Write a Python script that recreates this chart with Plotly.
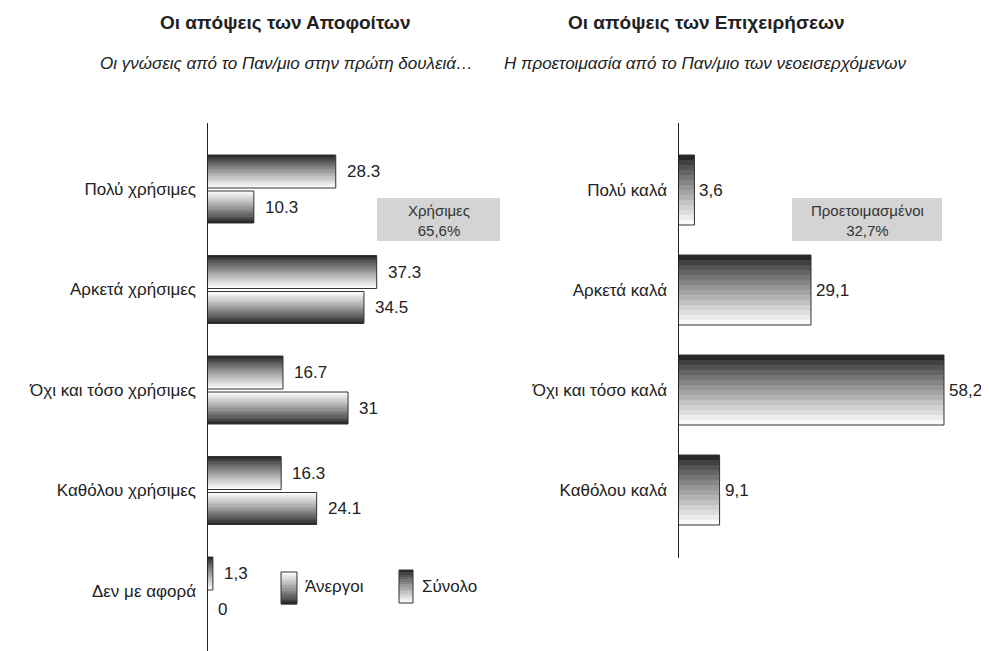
import plotly.graph_objects as go

# ---------------- data ----------------
left_categories = ["Πολύ χρήσιμες", "Αρκετά χρήσιμες", "Όχι και τόσο χρήσιμες",
                   "Καθόλου χρήσιμες", "Δεν με αφορά"]
total_values = [28.3, 37.3, 16.7, 16.3, 1.3]
total_labels = ["28.3", "37.3", "16.7", "16.3", "1,3"]
unemployed_values = [10.3, 34.5, 31, 24.1, 0]
unemployed_labels = ["10.3", "34.5", "31", "24.1", "0"]

right_categories = ["Πολύ καλά", "Αρκετά καλά", "Όχι και τόσο καλά", "Καθόλου καλά"]
business_values = [3.6, 29.1, 58.2, 9.1]
business_labels = ["3,6", "29,1", "58,2", "9,1"]

left_title = "Οι απόψεις των Αποφοίτων"
left_subtitle = "Οι γνώσεις από το Παν/μιο στην πρώτη δουλειά…"
right_title = "Οι απόψεις των Επιχειρήσεων"
right_subtitle = "Η προετοιμασία από το Παν/μιο των νεοεισερχόμενων"
left_box_text = "Χρήσιμες<br>65,6%"
right_box_text = "Προετοιμασμένοι<br>32,7%"
legend_names = ["Άνεργοι", "Σύνολο"]

# ---------------- geometry helpers (page pixels -> paper) ----------------
PAGE_OFF = 8            # default body margin of the html page
W, H = 989 - PAGE_OFF, 651 - PAGE_OFF
FONT = "Liberation Sans, Arial, sans-serif"
TXT = "#222222"
FS = 17
N = 14


def X(p):
    return (p - PAGE_OFF) / W


def Y(p):
    return 1 - (p - PAGE_OFF) / H


def shade(t):
    g = int(round(40 + (250 - 40) * (t ** 0.85)))
    return f"rgb({g},{g},{g})"


dark_top = [shade(k / (N - 1)) for k in range(N)]
dark_bottom = list(reversed(dark_top))

fig = go.Figure()


def gradient_bars(values, positions, offset, thickness, colors, xa, ya):
    h = thickness / N
    for k in range(N):
        w = h * 1.25 if k < N - 1 else h
        fig.add_trace(go.Bar(
            x=values, y=positions, orientation="h",
            offset=offset + k * h, width=w,
            marker=dict(color=colors[k], line=dict(width=0)),
            xaxis=xa, yaxis=ya, hoverinfo="skip", showlegend=False))
    fig.add_trace(go.Bar(
        x=values, y=positions, orientation="h",
        offset=offset, width=thickness,
        marker=dict(color="rgba(0,0,0,0)", line=dict(color="#333333", width=1)),
        xaxis=xa, yaxis=ya, hoverinfo="skip", showlegend=False))


left_pos = list(range(len(left_categories)))
right_pos = list(range(len(right_categories)))

# left panel: Σύνολο (upper bar), Άνεργοι (lower bar)
L_UNIT = 100.5
tot_off, tot_th = -34 / L_UNIT, 33 / L_UNIT
une_off, une_th = 2 / L_UNIT, 32 / L_UNIT
gradient_bars(total_values, left_pos, tot_off, tot_th, dark_top, "x", "y")
gradient_bars(unemployed_values, left_pos, une_off, une_th, dark_bottom, "x", "y")

# right panel
R_UNIT = 100.0
bus_off, bus_th = -35 / R_UNIT, 70 / R_UNIT
gradient_bars(business_values, right_pos, bus_off, bus_th, dark_top, "x2", "y2")

annotations = []
for v, lab, p in zip(total_values, total_labels, left_pos):
    annotations.append(dict(x=v, y=p + tot_off + tot_th / 2, xref="x", yref="y",
                            text=lab, showarrow=False, xanchor="left", xshift=9,
                            font=dict(size=FS, color=TXT, family=FONT)))
for v, lab, p in zip(unemployed_values, unemployed_labels, left_pos):
    annotations.append(dict(x=v, y=p + une_off + une_th / 2, xref="x", yref="y",
                            text=lab, showarrow=False, xanchor="left", xshift=9,
                            font=dict(size=FS, color=TXT, family=FONT)))
for v, lab, p in zip(business_values, business_labels, right_pos):
    annotations.append(dict(x=v, y=p, xref="x2", yref="y2",
                            text=lab, showarrow=False, xanchor="left", xshift=3,
                            font=dict(size=FS, color=TXT, family=FONT)))

# titles
for txt, cx in [(left_title, 285), (right_title, 706)]:
    annotations.append(dict(x=X(cx), y=Y(23), xref="paper", yref="paper", text=f"<b>{txt}</b>",
                            showarrow=False, xanchor="center", yanchor="middle",
                            font=dict(size=19, color=TXT, family=FONT)))
for txt, cx in [(left_subtitle, 286), (right_subtitle, 705)]:
    annotations.append(dict(x=X(cx), y=Y(63), xref="paper", yref="paper", text=f"<i>{txt}</i>",
                            showarrow=False, xanchor="center", yanchor="middle",
                            font=dict(size=17, color=TXT, family=FONT)))

shapes = []
# gray boxes
for (x0, x1, y0, y1, txt) in [(377, 500, 198, 241, left_box_text), (792, 942, 198, 241, right_box_text)]:
    shapes.append(dict(type="rect", xref="paper", yref="paper", x0=X(x0), x1=X(x1),
                       y0=Y(y0), y1=Y(y1), fillcolor="#d4d4d4", line=dict(width=0), layer="below"))
    annotations.append(dict(x=X((x0 + x1) / 2), y=Y((y0 + y1) / 2 + 1), xref="paper", yref="paper",
                            text=txt, showarrow=False, xanchor="center", yanchor="middle",
                            font=dict(size=15, color="#333333", family=FONT)))

# axis lines
shapes.append(dict(type="line", xref="x", yref="paper", x0=0, x1=0, y0=Y(123), y1=Y(651),
                   line=dict(color="#222222", width=2)))
shapes.append(dict(type="line", xref="x2", yref="paper", x0=0, x1=0, y0=Y(123), y1=Y(558),
                   line=dict(color="#222222", width=2)))

# legend swatches
for (x0, x1, y0, y1, cols, name, tx) in [(281, 297, 572, 604, dark_bottom, legend_names[0], 303),
                                          (399, 413, 570, 603, dark_top, legend_names[1], 420)]:
    h = (y1 - y0) / N
    for k in range(N):
        shapes.append(dict(type="rect", xref="paper", yref="paper", x0=X(x0), x1=X(x1),
                           y0=Y(y0 + k * h), y1=Y(y0 + (k + 1) * h + 0.4),
                           fillcolor=cols[k], line=dict(width=0)))
    shapes.append(dict(type="rect", xref="paper", yref="paper", x0=X(x0), x1=X(x1),
                       y0=Y(y0), y1=Y(y1), fillcolor="rgba(0,0,0,0)",
                       line=dict(color="#333333", width=1)))
    annotations.append(dict(x=X(tx), y=Y(586), xref="paper", yref="paper", text=name,
                            showarrow=False, xanchor="left", yanchor="middle",
                            font=dict(size=FS, color=TXT, family=FONT)))

axis_common = dict(showgrid=False, zeroline=False, showline=False, showticklabels=False, ticks="")
L_C0 = 189 - PAGE_OFF
R_C0 = 190 - PAGE_OFF
fig.update_layout(
    width=W, height=H,
    margin=dict(l=0, r=0, t=0, b=0, autoexpand=False),
    paper_bgcolor="white", plot_bgcolor="rgba(0,0,0,0)",
    barmode="overlay", showlegend=False,
    font=dict(family=FONT, size=FS, color=TXT),
    xaxis=dict(domain=[X(207), X(207 + 4.55 * 60)], range=[0, 60], **axis_common),
    xaxis2=dict(domain=[X(678), X(678 + 4.57 * 60)], range=[0, 60], **axis_common),
    yaxis=dict(domain=[0, 1], anchor="x", range=[(H - L_C0) / L_UNIT, -L_C0 / L_UNIT],
               tickmode="array", tickvals=left_pos, ticktext=left_categories,
               showgrid=False, zeroline=False, showline=False, ticks="",
               ticklabelstandoff=10, tickfont=dict(size=FS, color=TXT, family=FONT)),
    yaxis2=dict(domain=[0, 1], anchor="x2", range=[(H - R_C0) / R_UNIT, -R_C0 / R_UNIT],
                tickmode="array", tickvals=right_pos, ticktext=right_categories,
                showgrid=False, zeroline=False, showline=False, ticks="",
                ticklabelstandoff=10, tickfont=dict(size=FS, color=TXT, family=FONT)),
    shapes=shapes, annotations=annotations,
)

fig.write_html("out.html")
